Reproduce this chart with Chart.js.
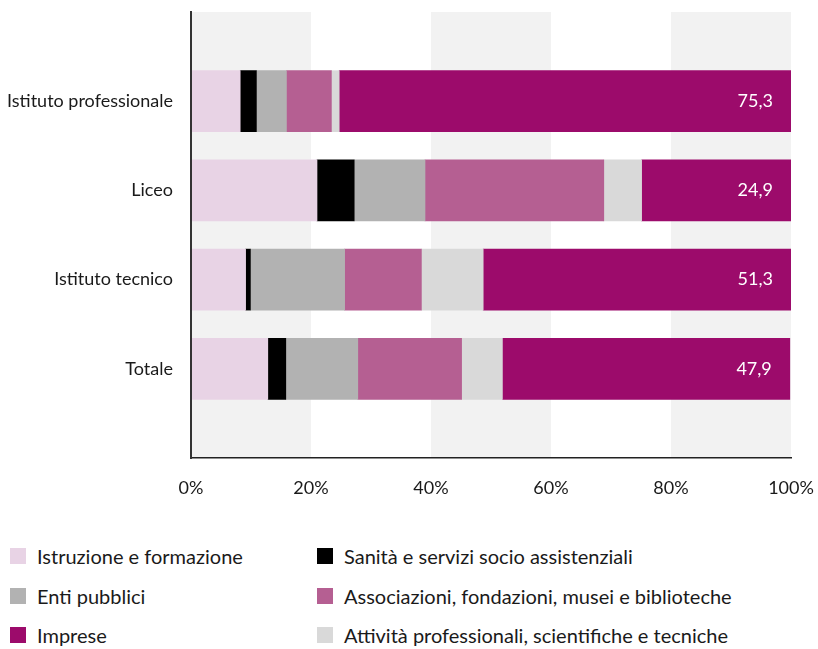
<!DOCTYPE html>
<html lang="it">
<head>
<meta charset="utf-8">
<title>Settori delle strutture ospitanti</title>
<script src="https://cdn.jsdelivr.net/npm/chart.js@4.4.1/dist/chart.umd.min.js"></script>
<style>
  html, body { margin: 0; padding: 0; background: #ffffff; }
  body { width: 818px; height: 649px; position: relative; overflow: hidden; font-family: Lato, "Noto Sans", sans-serif; color: #1a1a1a; }
  #wrap { position: absolute; left: 0; top: 0; width: 818px; height: 510px; }
  #legend { position: absolute; left: 0; top: 543px; width: 818px; }
  .item { position: absolute; display: flex; align-items: center; font-size: 20px; line-height: 26px; white-space: nowrap; }
  .sw { width: 16px; height: 16px; margin-right: 11px; flex: none; }
</style>
</head>
<body>
<div id="wrap"><canvas id="chart"></canvas></div>
<div id="legend"></div>
<script>
// Categories (top to bottom) and the percentage shares of each sector
const categories = ['Istituto professionale', 'Liceo', 'Istituto tecnico', 'Totale'];
const istruzione = [8.2, 21.0, 9.1, 12.8];
const sanita = [2.7, 6.2, 0.8, 3.0];
const entiPubblici = [5.0, 11.8, 15.7, 12.0];
const associazioni = [7.5, 29.8, 12.8, 17.3];
const attivita = [1.3, 6.3, 10.3, 6.8];
const imprese = [75.3, 24.9, 51.3, 47.9];
const xTicks = [0, 20, 40, 60, 80, 100];

const seriesNames = [
  'Istruzione e formazione',
  'Sanità e servizi socio assistenziali',
  'Enti pubblici',
  'Associazioni, fondazioni, musei e biblioteche',
  'Attività professionali, scientifiche e tecniche',
  'Imprese'
];
const seriesValues = [istruzione, sanita, entiPubblici, associazioni, attivita, imprese];
const seriesColors = ['#E8D3E5', '#000000', '#B2B2B2', '#B55F92', '#D9D9D9', '#9C0B6B'];

const FONT = 'Lato, "Noto Sans", sans-serif';

// an empty slot above and below the bars gives the band of space at both ends
const labels = [''].concat(categories, ['']);
const pad = arr => [null].concat(arr, [null]);

const datasets = seriesNames.map((name, i) => ({
  label: name,
  data: pad(seriesValues[i]),
  backgroundColor: seriesColors[i],
  borderWidth: 0,
  barThickness: 61
}));

const fmt = v => v.toFixed(1).replace('.', ',');

// alternating grey columns behind the bars and axes
const bandsPlugin = {
  id: 'bands',
  beforeDraw(chart) {
    const { ctx, chartArea, scales } = chart;
    ctx.save();
    ctx.fillStyle = '#F2F2F2';
    for (let i = 0; i + 1 < xTicks.length; i += 2) {
      const x0 = scales.x.getPixelForValue(xTicks[i]);
      const x1 = scales.x.getPixelForValue(xTicks[i + 1]);
      ctx.fillRect(x0, chartArea.top, x1 - x0, chartArea.bottom - chartArea.top);
    }
    ctx.restore();
  }
};

// value labels inside the last segment
const valuePlugin = {
  id: 'values',
  afterDatasetsDraw(chart) {
    const { ctx } = chart;
    const last = chart.data.datasets.length - 1;
    const meta = chart.getDatasetMeta(last);
    ctx.save();
    ctx.fillStyle = '#ffffff';
    ctx.font = '18px ' + FONT;
    ctx.textAlign = 'right';
    ctx.textBaseline = 'middle';
    meta.data.forEach((bar, idx) => {
      const v = chart.data.datasets[last].data[idx];
      if (v == null) return;
      ctx.fillText(fmt(v), bar.x - 18, bar.y);
    });
    ctx.restore();
  }
};

new Chart(document.getElementById('chart'), {
  type: 'bar',
  data: { labels, datasets },
  plugins: [bandsPlugin, valuePlugin],
  options: {
    indexAxis: 'y',
    responsive: true,
    maintainAspectRatio: false,
    animation: false,
    layout: { padding: { top: 12, right: 27, left: 0, bottom: 0 } },
    plugins: { legend: { display: false }, tooltip: { enabled: false } },
    scales: {
      x: {
        stacked: true,
        min: 0,
        max: 100,
        grid: { display: false, drawTicks: false },
        border: { display: true, color: '#222222', width: 1.5, z: 1 },
        afterBuildTicks: s => { s.ticks = xTicks.map(v => ({ value: v })); },
        afterFit: s => { s.height = 52; s.paddingLeft = 0; s.paddingRight = 0; },
        ticks: {
          padding: 19,
          color: '#1a1a1a',
          font: { size: 18, family: FONT },
          callback: v => v + '%'
        }
      },
      y: {
        stacked: true,
        offset: false,
        grid: { display: false, drawTicks: false },
        border: { display: true, color: '#333333', width: 2, z: 1 },
        afterFit: s => { s.width = 191; s.paddingTop = 0; s.paddingBottom = 0; },
        ticks: {
          padding: 18,
          autoSkip: false,
          color: '#1a1a1a',
          font: { size: 18, family: FONT }
        }
      }
    }
  }
});

// legend in two columns
const legendOrder = [
  [0, 10, 0], [2, 10, 40], [5, 10, 79],
  [1, 317, 0], [3, 317, 40], [4, 317, 79]
];
const legend = document.getElementById('legend');
legendOrder.forEach(([i, x, y]) => {
  const item = document.createElement('div');
  item.className = 'item';
  item.style.left = x + 'px';
  item.style.top = y + 'px';
  const sw = document.createElement('span');
  sw.className = 'sw';
  sw.style.background = seriesColors[i];
  const tx = document.createElement('span');
  tx.textContent = seriesNames[i];
  item.appendChild(sw);
  item.appendChild(tx);
  legend.appendChild(item);
});
</script>
</body>
</html>
